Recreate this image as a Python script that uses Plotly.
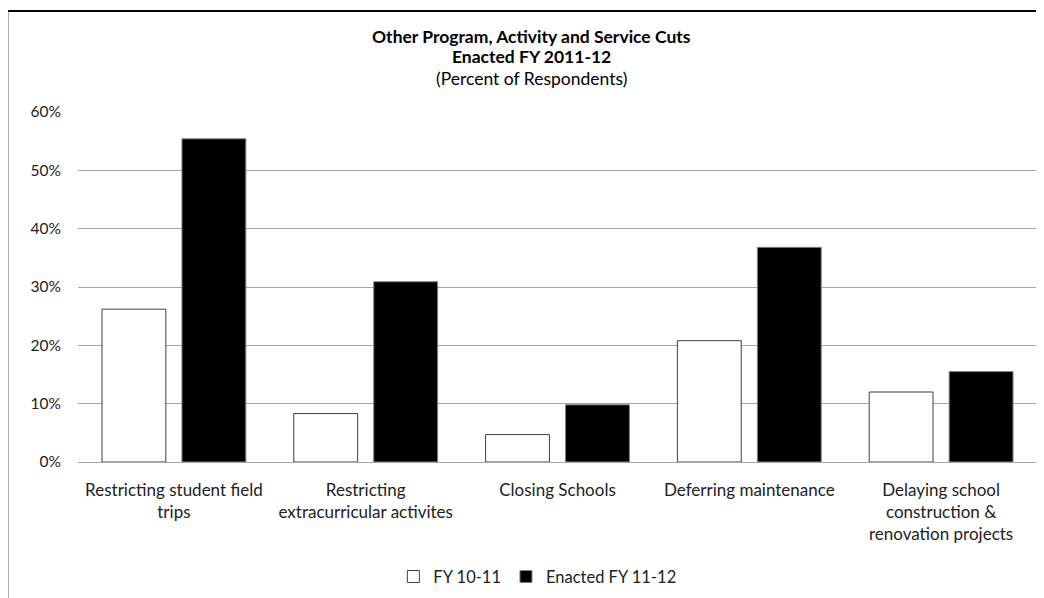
import plotly.graph_objects as go

# categories and series values (fractions of respondents)
categories = [
    "Restricting student field<br>trips",
    "Restricting<br>extracurricular activites",
    "Closing Schools",
    "Deferring maintenance",
    "Delaying school<br>construction &<br>renovation projects",
]
fy_10_11 = [0.262, 0.083, 0.047, 0.208, 0.120]
fy_11_12 = [0.554, 0.309, 0.098, 0.368, 0.155]
series_names = ["FY 10-11", "Enacted FY 11-12"]
y_ticks = [0, 0.1, 0.2, 0.3, 0.4, 0.5, 0.6]
title_lines = ["<b>Other Program, Activity and Service Cuts</b>",
               "<b>Enacted FY 2011-12</b>",
               "(Percent of Respondents)"]

FONT = "Lato, Calibri, Carlito, sans-serif"

fig = go.Figure()
fig.add_trace(go.Bar(
    x=list(range(len(categories))), y=fy_10_11, name=series_names[0],
    width=0.333, offset=-0.375,
    marker=dict(color="white", line=dict(color="#404040", width=1)),
))
fig.add_trace(go.Bar(
    x=list(range(len(categories))), y=fy_11_12, name=series_names[1],
    width=0.333, offset=0.042,
    marker=dict(color="black", line=dict(color="#808080", width=1)),
))

# title as three separate lines, to get the tighter line spacing
title_y = [1.217, 1.158, 1.095]
annotations = [
    dict(text=t, xref="paper", yref="paper", x=0.473, y=yy, xanchor="center", yanchor="middle",
         showarrow=False, font=dict(size=17.5, color="black"))
    for t, yy in zip(title_lines, title_y)
]

# page has an 8px body margin, so the figure is drawn 8px smaller
fig.update_layout(
    width=1036, height=590,
    margin=dict(l=70, r=7, t=104, b=136, autoexpand=False),
    paper_bgcolor="white", plot_bgcolor="white",
    barmode="overlay",
    font=dict(family=FONT, size=17, color="#222222"),
    showlegend=True,
    legend=dict(orientation="h", x=0.479, xanchor="center", yref="container", y=0.036, yanchor="middle",
                font=dict(size=16.5), itemwidth=30, traceorder="normal"),
    xaxis=dict(
        tickmode="array", tickvals=list(range(len(categories))), ticktext=categories,
        range=[-0.5, len(categories) - 0.5], showgrid=False, zeroline=False, automargin=False,
        showline=False, ticks="", ticklabelstandoff=16, tickfont=dict(size=17),
    ),
    yaxis=dict(
        range=[0, 0.6], tickvals=y_ticks, tickformat=".0%", automargin=False,
        showgrid=True, gridcolor="#a6a6a6", gridwidth=1,
        zeroline=True, zerolinecolor="#a6a6a6", zerolinewidth=1,
        showline=False, ticks="", ticklabelstandoff=16, tickfont=dict(size=15.5),
    ),
    annotations=annotations,
    shapes=[
        dict(type="line", xref="paper", yref="paper", x0=-0.0737, x1=-0.0737, y0=-0.5, y1=1.2886,
             line=dict(color="black", width=2)),
        dict(type="line", xref="paper", yref="paper", x0=-0.0737, x1=1.05, y0=1.2886, y1=1.2886,
             line=dict(color="black", width=2)),
    ],
)

fig.write_html("out.html")
